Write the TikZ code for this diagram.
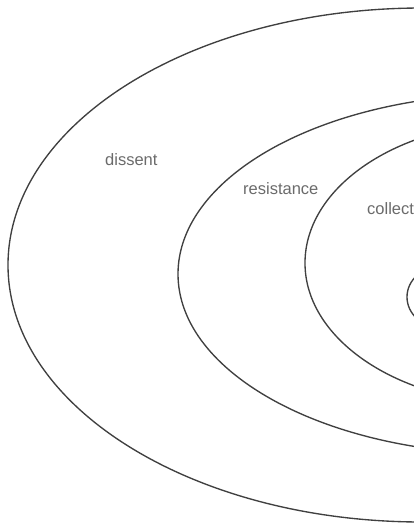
\documentclass[tikz,border=0pt]{standalone}
\usepackage{fontspec}
\setmainfont{Liberation Sans}
\begin{document}
\begin{tikzpicture}[x=1pt,y=-1pt,
  ring/.style={draw=black!75,line width=1.35pt},
  lbl/.style={anchor=base west,inner sep=0pt,text=black!58,font=\fontsize{16.5}{20}\selectfont}]
\useasboundingbox (0,0) rectangle (414,523);
\clip (0,0) rectangle (414,523);
\fill[white] (0,0) rectangle (414,523);
\draw[ring] (422,265) ellipse [x radius=414pt, y radius=257pt];
\draw[ring] (510,274) ellipse [x radius=332pt, y radius=180pt];
\draw[ring] (520,263) ellipse [x radius=215pt, y radius=141pt];
\draw[ring] (442,297) ellipse [x radius=35pt, y radius=31pt];
\node[lbl] (dissent) at (105,165) {dissent};
\node[lbl] (resistance) at (243,194) {resistance};
\node[lbl] (collective) at (367,214) {collect};
\end{tikzpicture}
\end{document}
